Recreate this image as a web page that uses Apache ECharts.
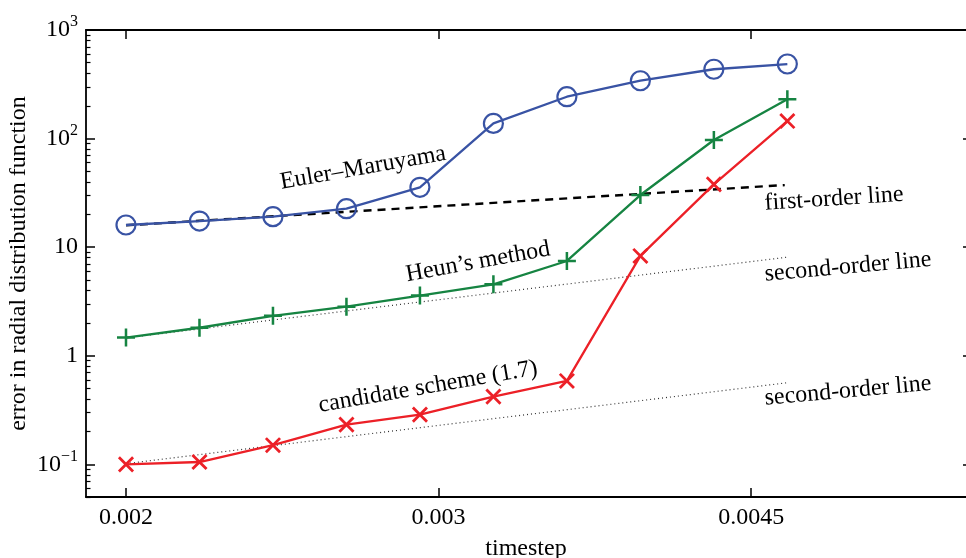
<!DOCTYPE html>
<html>
<head>
<meta charset="utf-8">
<title>error vs timestep</title>
<script src="https://cdn.jsdelivr.net/npm/echarts@6/dist/echarts.min.js"></script>
<style>
html,body{margin:0;padding:0;background:#fff;}
#chart{width:966px;height:558px;}
</style>
</head>
<body>
<div id="chart"></div>
<script>
// timesteps, each one 1.1x the previous
var timestep = [0.002, 0.0022, 0.00242, 0.002662, 0.0029282, 0.0032210, 0.0035431, 0.0038974, 0.0042872, 0.0047159];
var eulerMaruyama = [16.0, 17.4, 19.1, 22.6, 35.6, 138, 243, 341, 435, 486];
var heun = [1.47, 1.81, 2.33, 2.83, 3.58, 4.55, 7.46, 30.2, 97.1, 230];
var candidate = [0.100, 0.105, 0.150, 0.232, 0.287, 0.420, 0.586, 8.30, 37.9, 145];

// reference slopes
var firstOrderX = [0.002, 0.0047];
var firstOrderY = [15.9, 37.3];
var secondOrderX = [0.002, 0.00472];
var secondOrderHeunY = [1.46, 8.1];
var secondOrderCandY = [0.1015, 0.565];

// ticks
var xTicks = [0.002, 0.003, 0.0045];
var xTickLabels = ['0.002', '0.003', '0.0045'];
var yTicks = [0.1, 1, 10, 100, 1000];
var yTickLabels = ['{b|10}{s|\u22121}', '{b|1}', '{b|10}', '{b|10}{s|2}', '{b|10}{s|3}'];

var serif = '"Liberation Serif", "DejaVu Serif", serif';
var blue = '#3953a4', green = '#168442', red = '#ec2027';
var plusPath = 'path://M8.6,0h2.8v20h-2.8z M0,8.6h20v2.8h-20z';

function zip(xs, ys) {
  var out = [];
  for (var i = 0; i < xs.length; i++) out.push([xs[i], ys[i]]);
  return out;
}
function nearest(ticks, labels, v) {
  var best = 0, d = Infinity;
  for (var i = 0; i < ticks.length; i++) {
    var dd = Math.abs(Math.log(v) - Math.log(ticks[i]));
    if (dd < d) { d = dd; best = i; }
  }
  return labels[best];
}

var axisLine = {lineStyle: {color: '#000', width: 1.8}};
var xTick = {inside: true, length: 9, customValues: xTicks, lineStyle: {color: '#000', width: 1.5}};
var yTick = {inside: true, length: 9, lineStyle: {color: '#000', width: 1.5}};
var yMinor = {show: true, splitNumber: 9, length: 4.5, lineStyle: {color: '#000', width: 1.2}};

var myChart = echarts.init(document.getElementById('chart'));
var option = {
  animation: false,
  backgroundColor: '#fff',
  grid: {left: 86, right: 0, top: 30, bottom: 61, outerBoundsMode: 'none', containLabel: false},
  xAxis: [
    {
      type: 'log', min: 0.0018989, max: 0.0059456, position: 'bottom',
      name: 'timestep', nameLocation: 'middle', nameGap: 40, nameMoveOverlap: false,
      nameTextStyle: {fontFamily: serif, fontSize: 24, color: '#000'},
      axisLine: axisLine, axisTick: xTick,
      axisLabel: {
        customValues: xTicks, margin: 9, color: '#000', fontFamily: serif, fontSize: 24,
        formatter: function (v) { return nearest(xTicks, xTickLabels, v); }
      },
      splitLine: {show: false}
    },
    {
      type: 'log', min: 0.0018989, max: 0.0059456, position: 'top',
      axisLine: axisLine, axisTick: xTick,
      axisLabel: {show: false}, splitLine: {show: false}
    }
  ],
  yAxis: [
    {
      type: 'log', min: 0.05, max: 1000, position: 'left',
      name: 'error in radial distribution function', nameLocation: 'middle', nameGap: 55, nameMoveOverlap: false,
      nameTextStyle: {fontFamily: serif, fontSize: 24, color: '#000'},
      axisLine: axisLine, axisTick: Object.assign({customValues: yTicks}, yTick), minorTick: yMinor,
      axisLabel: {
        customValues: yTicks, margin: 8, color: '#000',
        formatter: function (v) { return nearest(yTicks, yTickLabels, v); },
        rich: {
          b: {fontFamily: serif, fontSize: 24, lineHeight: 32, color: '#000'},
          s: {fontFamily: serif, fontSize: 16, lineHeight: 16, verticalAlign: 'top', color: '#000'}
        }
      },
      splitLine: {show: false}, minorSplitLine: {show: false}
    },
    {
      // right spine sits just outside the picture, only its ticks show
      type: 'log', min: 0.05, max: 1000, position: 'right', offset: 6,
      axisLine: axisLine, axisTick: Object.assign({customValues: yTicks}, yTick), minorTick: yMinor,
      axisLabel: {show: false}, splitLine: {show: false}
    }
  ],
  series: [
    {
      name: 'first-order line', type: 'line', symbol: 'none',
      data: zip(firstOrderX, firstOrderY),
      lineStyle: {color: '#000', width: 2.4, type: [8, 6]}
    },
    {
      name: 'second-order line (Heun)', type: 'line', symbol: 'none',
      data: zip(secondOrderX, secondOrderHeunY),
      lineStyle: {color: '#333', width: 1.2, type: [1, 3]}
    },
    {
      name: 'second-order line (candidate)', type: 'line', symbol: 'none',
      data: zip(secondOrderX, secondOrderCandY),
      lineStyle: {color: '#333', width: 1.2, type: [1, 3]}
    },
    {
      name: 'Euler–Maruyama', type: 'line', data: zip(timestep, eulerMaruyama),
      symbol: 'circle', symbolSize: 19,
      itemStyle: {color: 'rgba(0,0,0,0)', borderColor: blue, borderWidth: 2.2},
      lineStyle: {color: blue, width: 2.3}
    },
    {
      name: "Heun's method", type: 'line', data: zip(timestep, heun),
      symbol: plusPath, symbolSize: 18,
      itemStyle: {color: green},
      lineStyle: {color: green, width: 2.3}
    },
    {
      name: 'candidate scheme (1.7)', type: 'line', data: zip(timestep, candidate),
      symbol: plusPath, symbolSize: 20, symbolRotate: 45,
      itemStyle: {color: red},
      lineStyle: {color: red, width: 2.3}
    }
  ],
  graphic: [
    {type: 'text', x: 363, y: 168, rotation: 0.175, style: {text: 'Euler\u2013Maruyama', font: '24px ' + serif, fill: '#000', align: 'center', verticalAlign: 'middle'}},
    {type: 'text', x: 478, y: 262, rotation: 0.18, style: {text: 'Heun\u2019s method', font: '24px ' + serif, fill: '#000', align: 'center', verticalAlign: 'middle'}},
    {type: 'text', x: 428, y: 387, rotation: 0.17, style: {text: 'candidate scheme (1.7)', font: '24px ' + serif, fill: '#000', align: 'center', verticalAlign: 'middle'}},
    {type: 'text', x: 834, y: 199, rotation: 0.065, style: {text: 'first-order line', font: '24px ' + serif, fill: '#000', align: 'center', verticalAlign: 'middle'}},
    {type: 'text', x: 848, y: 267, rotation: 0.09, style: {text: 'second-order line', font: '24px ' + serif, fill: '#000', align: 'center', verticalAlign: 'middle'}},
    {type: 'text', x: 848, y: 391, rotation: 0.09, style: {text: 'second-order line', font: '24px ' + serif, fill: '#000', align: 'center', verticalAlign: 'middle'}}
  ]
};
myChart.setOption(option);
</script>
</body>
</html>
